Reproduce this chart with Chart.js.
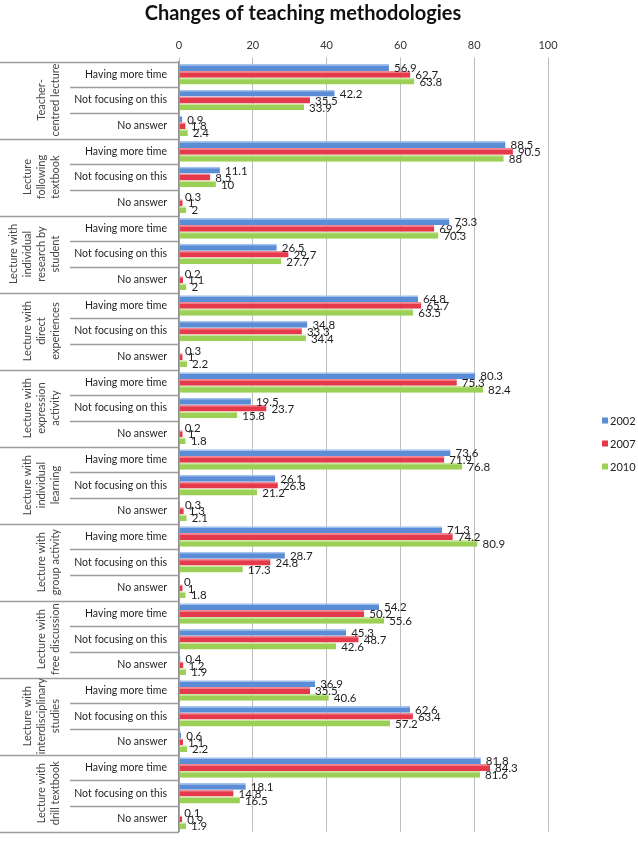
<!DOCTYPE html>
<html>
<head>
<meta charset="utf-8">
<script src="https://cdn.jsdelivr.net/npm/chart.js@4/dist/chart.umd.min.js"></script>
<style>
html,body{margin:0;padding:0;background:#fff;}
#c{display:block;}
</style>
</head>
<body>
<canvas id="c" width="638" height="850"></canvas>
<script>
const chartTitle = "Changes of teaching methodologies";
const groupLabels = [
  ["Teacher-", "centred lecture"],
  ["Lecture", "following", "textbook"],
  ["Lecture with", "individual", "research by", "student"],
  ["Lecture with", "direct", "experiences"],
  ["Lecture with", "expression", "activity"],
  ["Lecture with", "individual", "learning"],
  ["Lecture with", "group activity"],
  ["Lecture with", "free discussion"],
  ["Lecture with", "interdisciplinary", "studies"],
  ["Lecture with", "drill textbook"]
];
const itemLabels = ["Having more time", "Not focusing on this", "No answer"];
const seriesNames = ["2002", "2007", "2010"];
const values2002 = [56.9, 42.2, 0.9, 88.5, 11.1, 0.3, 73.3, 26.5, 0.2, 64.8, 34.8, 0.3, 80.3, 19.5, 0.2, 73.6, 26.1, 0.3, 71.3, 28.7, 0, 54.2, 45.3, 0.4, 36.9, 62.6, 0.6, 81.8, 18.1, 0.1];
const values2007 = [62.7, 35.5, 1.8, 90.5, 8.5, 1, 69.2, 29.7, 1.1, 65.7, 33.3, 1, 75.3, 23.7, 1, 71.9, 26.8, 1.3, 74.2, 24.8, 1, 50.2, 48.7, 1.2, 35.5, 63.4, 1.1, 84.3, 14.8, 0.9];
const values2010 = [63.8, 33.9, 2.4, 88, 10, 2, 70.3, 27.7, 2, 63.5, 34.4, 2.2, 82.4, 15.8, 1.8, 76.8, 21.2, 2.1, 80.9, 17.3, 1.8, 55.6, 42.6, 1.9, 40.6, 57.2, 2.2, 81.6, 16.5, 1.9];
const xTicks = [0, 20, 40, 60, 80, 100];

const FONT = "Lato, 'Liberation Sans', sans-serif";
const categories = [];
groupLabels.forEach(() => itemLabels.forEach(l => categories.push(l)));

const fills = ["#5a8dd6", "#e43a4c", "#9ccf55"];
const tops = ["#a3c2ee", "#f38891", "#c9e89d"];

const decor = {
  id: 'decor',
  afterDraw(chart) {
    const ctx = chart.ctx;
    const ys = chart.scales.y;
    const area = chart.chartArea;
    const half = (ys.getPixelForValue(1) - ys.getPixelForValue(0)) / 2;
    ctx.save();
    // separators in label area
    ctx.strokeStyle = "#9d9d9d";
    ctx.lineWidth = 1.3;
    for (let i = 0; i <= categories.length; i++) {
      const y = (i < categories.length ? ys.getPixelForValue(i) - half : ys.getPixelForValue(categories.length - 1) + half);
      const x0 = (i % 3 === 0) ? 0 : 70;
      ctx.beginPath();
      ctx.moveTo(x0, Math.round(y) + 0.5);
      ctx.lineTo(area.left, Math.round(y) + 0.5);
      ctx.stroke();
    }
    // group labels (rotated)
    ctx.fillStyle = "#454545";
    ctx.font = "11px " + FONT;
    ctx.textAlign = "center";
    ctx.textBaseline = "middle";
    groupLabels.forEach((lines, g) => {
      const yc = (ys.getPixelForValue(g * 3) + ys.getPixelForValue(g * 3 + 2)) / 2;
      const n = lines.length;
      lines.forEach((line, k) => {
        const x = 55 - 14 * (n - 1 - k);
        ctx.save();
        ctx.translate(x, yc);
        ctx.rotate(-Math.PI / 2);
        ctx.fillText(line, 0, 0);
        ctx.restore();
      });
    });
    // value labels
    ctx.fillStyle = "#1e1e1e";
    ctx.font = "11.5px " + FONT;
    ctx.textAlign = "left";
    chart.data.datasets.forEach((ds, di) => {
      const meta = chart.getDatasetMeta(di);
      meta.data.forEach((el, i) => {
        ctx.fillText(String(ds.data[i]), el.x + 5, el.y + 1);
      });
    });
    // title
    ctx.fillStyle = "#111";
    ctx.font = "bold 20px " + FONT;
    ctx.textAlign = "center";
    ctx.fillText(chartTitle, 303, 14);
    // legend
    ctx.font = "11px " + FONT;
    ctx.textAlign = "left";
    const ly = [421, 444, 467];
    chart.data.datasets.forEach((ds, di) => {
      ctx.fillStyle = fills[di];
      ctx.fillRect(602, ly[di] - 3.5, 6, 6);
      ctx.fillStyle = "#222";
      ctx.fillText(ds.label, 610, ly[di] + 0.5);
    });
    ctx.restore();
  }
};

new Chart(document.getElementById('c'), {
  type: 'bar',
  data: {
    labels: categories,
    datasets: [
      { label: seriesNames[0], data: values2002 },
      { label: seriesNames[1], data: values2007 },
      { label: seriesNames[2], data: values2010 }
    ].map((d, i) => Object.assign(d, {
      backgroundColor: fills[i],
      borderColor: tops[i],
      borderWidth: { top: 1.5, bottom: 0, left: 0, right: 0 },
      borderSkipped: false,
      categoryPercentage: 0.8,
      barPercentage: 1.0
    }))
  },
  options: {
    indexAxis: 'y',
    responsive: false,
    animation: false,
    devicePixelRatio: 1,
    layout: { padding: { left: 0, right: 90, top: 0, bottom: 3 } },
    plugins: {
      legend: { display: false },
      title: { display: false },
      tooltip: { enabled: false }
    },
    scales: {
      x: {
        position: 'top',
        min: 0,
        max: 100,
        afterBuildTicks(scale) { scale.ticks = xTicks.map(v => ({ value: v })); },
        afterFit(scale) { scale.height = 61.5; },
        ticks: { color: "#333", font: { size: 11, family: FONT }, padding: 5 },
        grid: { color: "#bdbdbd", lineWidth: 1, tickLength: 4 },
        border: { display: false }
      },
      y: {
        afterFit(scale) { scale.width = 179; },
        ticks: { color: "#1e1e1e", font: { size: 10.5, family: FONT }, padding: 12, autoSkip: false },
        grid: { display: false, drawTicks: false },
        border: { display: true, color: "#8c8c8c", width: 1.5 }
      }
    }
  },
  plugins: [decor]
});
</script>
</body>
</html>
